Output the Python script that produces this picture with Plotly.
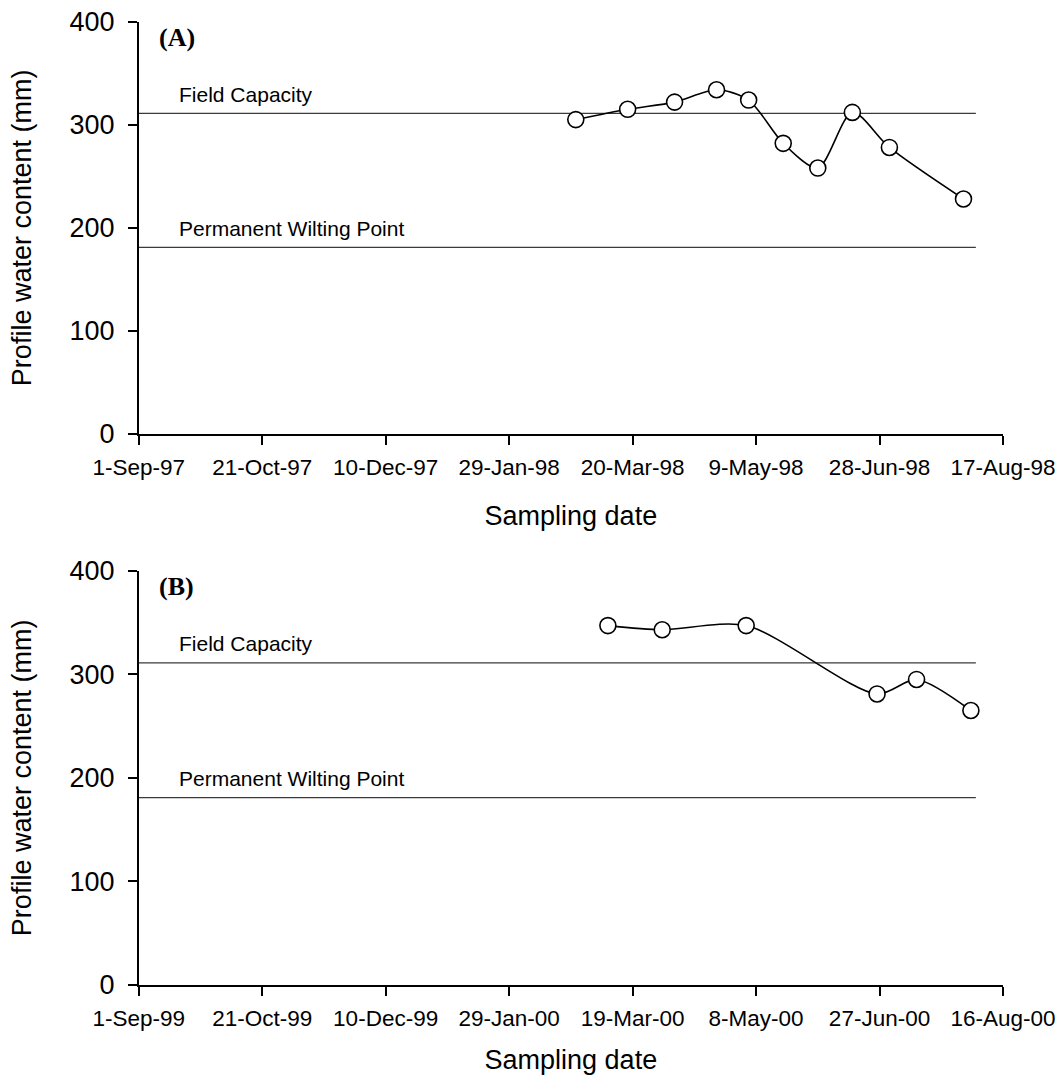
import plotly.graph_objects as go

# ---------------- data ----------------
dates_a = ["1998-02-25", "1998-03-18", "1998-04-06", "1998-04-23", "1998-05-06",
           "1998-05-20", "1998-06-03", "1998-06-17", "1998-07-02", "1998-08-01"]
water_a = [305, 315, 322, 334, 324, 282, 258, 312, 278, 228]

dates_b = ["2000-03-09", "2000-03-31", "2000-05-04", "2000-06-26", "2000-07-12", "2000-08-03"]
water_b = [347, 343, 347, 281, 295, 265]

field_capacity = 311
wilting_point = 181

ref_span_a = ["1997-09-01", "1998-08-06"]
ref_span_b = ["1999-09-01", "2000-08-05"]

range_a = ["1997-09-01", "1998-08-17"]
range_b = ["1999-09-01", "2000-08-16"]

panel_labels = ["(A)", "(B)"]
y_title = "Profile water content (mm)"
x_title = "Sampling date"

# ---------------- figure ----------------
W, H = 1062, 1086
fig = go.Figure()

SANS = "Liberation Sans, Arial, sans-serif"
SERIF = "Liberation Serif, Times New Roman, serif"

x0, x1 = 138.7 / W, 1003 / W
doms = [(1 - 434 / H, 1 - 21.7 / H), (1 - 985 / H, 1 - 570.7 / H)]
xtitle_standoff = [27, 20]

panels = [
    (dates_a, water_a, ref_span_a, range_a, "x", "y"),
    (dates_b, water_b, ref_span_b, range_b, "x2", "y2"),
]

for i, (dts, vals, span, rng, xa, ya) in enumerate(panels):
    for lvl in (field_capacity, wilting_point):
        fig.add_trace(go.Scatter(
            x=span, y=[lvl, lvl], mode="lines",
            line=dict(color="#3a3a3a", width=1.3),
            xaxis=xa, yaxis=ya, showlegend=False, hoverinfo="skip"))
    fig.add_trace(go.Scatter(
        x=dts, y=vals, mode="lines+markers",
        line=dict(color="black", width=1.6, shape="spline", smoothing=0.8),
        marker=dict(symbol="circle", size=16, color="white",
                    line=dict(color="black", width=1.6)),
        xaxis=xa, yaxis=ya, showlegend=False))

    suffix = "" if i == 0 else "2"
    xkey = "xaxis" + suffix
    ykey = "yaxis" + suffix
    fig.layout[xkey] = dict(
        domain=[x0, x1], anchor=ya, type="date", range=rng, automargin=False,
        tick0=rng[0], dtick=50 * 86400000, tickformat="%-d-%b-%y",
        showgrid=False, zeroline=False, showline=True, linecolor="black", linewidth=1.6,
        ticks="outside", ticklen=9, tickwidth=1.6, tickcolor="black",
        ticklabelstandoff=3,
        tickfont=dict(family=SANS, size=22.5, color="black"),
        title=dict(text=x_title, font=dict(family=SANS, size=27, color="black"),
                   standoff=xtitle_standoff[i]),
        fixedrange=True)
    fig.layout[ykey] = dict(
        domain=list(doms[i]), anchor=xa, range=[0, 400], automargin=False,
        tickvals=[0, 100, 200, 300, 400],
        showgrid=False, zeroline=False, showline=True, linecolor="black", linewidth=1.6,
        ticks="outside", ticklen=9, tickwidth=1.6, tickcolor="black",
        ticklabelstandoff=8,
        tickfont=dict(family=SANS, size=27, color="black"),
        title=dict(text=y_title, font=dict(family=SANS, size=27, color="black"), standoff=30),
        fixedrange=True)

    xr = xa + " domain"
    fig.add_annotation(x=0.021, y=385, xref=xr, yref=ya, text="<b>" + panel_labels[i] + "</b>",
                       showarrow=False, xanchor="left", yanchor="middle",
                       font=dict(family=SERIF, size=26, color="black"))
    fig.add_annotation(x=0.044, y=field_capacity, xref=xr, yref=ya, text="Field Capacity",
                       showarrow=False, xanchor="left", yanchor="middle", yshift=19,
                       font=dict(family=SANS, size=21, color="black"))
    fig.add_annotation(x=0.044, y=wilting_point, xref=xr, yref=ya, text="Permanent Wilting Point",
                       showarrow=False, xanchor="left", yanchor="middle", yshift=19,
                       font=dict(family=SANS, size=21, color="black"))

fig.update_layout(
    width=W, height=H,
    margin=dict(l=0, r=0, t=0, b=0, autoexpand=False),
    paper_bgcolor="white", plot_bgcolor="white",
    showlegend=False,
)

fig.write_html("out.html", config={"displayModeBar": False},
               post_script="document.body.style.margin='0';")
